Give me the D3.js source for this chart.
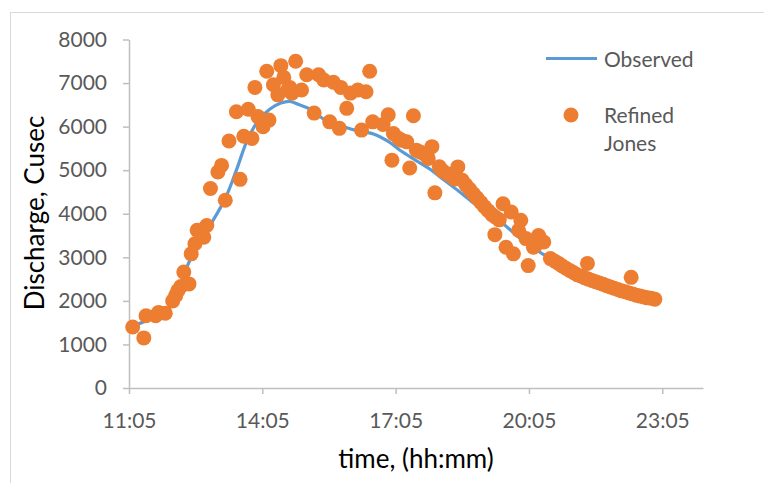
<!DOCTYPE html>
<html>
<head>
<meta charset="utf-8">
<script src="https://cdn.jsdelivr.net/npm/d3@7"></script>
<style>
  body { margin: 0; background: #fff; }
  text { font-family: Lato, "Open Sans", sans-serif; }
</style>
</head>
<body>
<svg id="chart" width="764" height="483"></svg>
<script>
// Observed hydrograph (smoothed line)
var obsTimes = ['11:05','11:30','11:55','12:10','12:25','12:40','12:55','13:15','13:30','13:45','14:00','14:15','14:30','14:42','14:55','15:10','15:30','15:50','16:10','16:35','16:55','17:10','17:30','17:50','18:10','18:30','18:50','19:10','19:30','19:50','20:10','20:25','20:45','21:10','21:40','22:10','22:40','22:55']
var obsValues = [1400,1550,1740,2150,2850,3350,3750,4350,5000,5700,6150,6400,6540,6580,6500,6400,6150,6030,5920,5830,5660,5470,5250,5040,4780,4520,4250,4010,3770,3480,3230,3060,2870,2660,2440,2240,2110,2040]

// Refined Jones points
var jonesTimes = ['11:10','11:25','11:28','11:41','11:45','11:54','12:04','12:08','12:11','12:15','12:19','12:26','12:29','12:34','12:37','12:46','12:50','12:55','13:05','13:10','13:15','13:20','13:30','13:35','13:40','13:46','13:51','13:55','13:59','14:06','14:11','14:14','14:20','14:26','14:30','14:34','14:39','14:42','14:45','14:50','14:58','15:05','15:15','15:21','15:28','15:36','15:41','15:49','15:51','15:59','16:04','16:14','16:19','16:25','16:30','16:34','16:48','16:55','17:00','17:02','17:09','17:13','17:20','17:24','17:29','17:33','17:38','17:43','17:49','17:54','17:58','18:04','18:08','18:15','18:20','18:25','18:29','18:35','18:40','18:45','18:50','18:55','19:00','19:05','19:10','19:15','19:19','19:20','19:25','19:30','19:34','19:41','19:44','19:51','19:54','20:01','20:04','20:11','20:14','20:18','20:25','20:34','20:40','20:45','20:50','20:55','21:00','21:05','21:10','21:15','21:20','21:24','21:25','21:30','21:35','21:40','21:45','21:50','21:55','22:00','22:05','22:10','22:15','22:20','22:23','22:25','22:30','22:35','22:40','22:45','22:50','22:55']
var jonesValues = [1400,1150,1660,1660,1735,1715,2000,2120,2235,2330,2660,2390,3080,3310,3620,3460,3730,4580,4960,5110,4310,5670,6340,4790,5780,6400,5730,6900,6230,6000,7270,6150,6960,6730,7400,7130,6840,6900,6770,7500,6840,7190,6310,7190,7070,6110,7020,5960,6900,6420,6770,6840,5920,6800,7270,6110,6050,6270,5230,5840,5730,5690,5650,5050,6250,5460,5420,5380,5270,5540,4480,5080,4990,4920,4860,4800,5076,4770,4660,4560,4460,4360,4260,4160,4070,3980,3520,3920,3860,4230,3230,4040,3080,3620,3850,3430,2810,3230,3270,3500,3350,2970,2910,2860,2800,2750,2700,2650,2600,2570,2530,2860,2500,2470,2440,2410,2380,2350,2320,2290,2260,2230,2210,2180,2540,2160,2130,2110,2090,2070,2060,2040]

var yTicks = [0,1000,2000,3000,4000,5000,6000,7000,8000]
var xTickLabels = ['11:05','14:05','17:05','20:05','23:05']

var parseTime = d3.timeParse('%H:%M')
var svg = d3.select('svg#chart')

// chart area border
svg.append('rect')
    .attr('x', 10.5).attr('y', 12.5)
    .attr('width', 800).attr('height', 500)
    .attr('fill', 'none').attr('stroke', '#d9d9d9')

var x = d3.scaleTime()
    .domain([parseTime('11:05'), d3.timeMinute.offset(parseTime('23:05'), 55)])
    .range([129, 703])
var y = d3.scaleLinear()
    .domain([0, 8000])
    .range([388, 39.5])

var axisColor = '#bfbfbf'
var labelColor = '#595959'

// y axis
svg.append('g')
    .attr('transform', 'translate(129,0)')
    .call(d3.axisLeft(y).tickValues(yTicks).tickFormat(d3.format('d')).tickSize(6).tickSizeOuter(0).tickPadding(16))
    .call(g => g.select('.domain').attr('stroke', axisColor).attr('stroke-width', 1.5))
    .call(g => g.selectAll('.tick line').attr('stroke', axisColor).attr('stroke-width', 1.5))
    .call(g => g.selectAll('.tick text').attr('fill', labelColor).style('font-size', '21px'))

// x axis
svg.append('g')
    .attr('transform', 'translate(0,388)')
    .call(d3.axisBottom(x).tickValues(xTickLabels.map(parseTime)).tickFormat(d3.timeFormat('%H:%M')).tickSize(6).tickSizeOuter(0))
    .call(g => g.select('.domain').attr('stroke', axisColor).attr('stroke-width', 1.5))
    .call(g => g.selectAll('.tick line').attr('stroke', axisColor).attr('stroke-width', 1.5))
    .call(g => g.selectAll('.tick text').attr('fill', labelColor).style('font-size', '21px')
        .attr('dy', null).attr('y', 40))

// observed line
var line = d3.line()
    .x((d, i) => x(parseTime(obsTimes[i])))
    .y(d => y(d))
    .curve(d3.curveCatmullRom)

svg.append('path')
    .datum(obsValues)
    .attr('fill', 'none')
    .attr('stroke', '#5b9bd5')
    .attr('stroke-width', 3.2)
    .attr('stroke-linejoin', 'round')
    .attr('stroke-linecap', 'round')
    .attr('d', line)

// refined jones dots
svg.append('g')
    .attr('fill', '#ed7d31')
  .selectAll('circle')
  .data(jonesValues)
  .enter()
  .append('circle')
    .attr('cx', (d, i) => x(parseTime(jonesTimes[i])))
    .attr('cy', d => y(d))
    .attr('r', 7.5)

// axis titles
svg.append('text')
    .attr('x', 416).attr('y', 468)
    .attr('text-anchor', 'middle')
    .style('font-size', '26px')
    .attr('fill', '#000')
    .text('time, (hh:mm)')

svg.append('text')
    .attr('transform', 'translate(44,213) rotate(-90)')
    .attr('text-anchor', 'middle')
    .style('font-size', '26px')
    .attr('fill', '#000')
    .text('Discharge, Cusec')

// legend
var legend = svg.append('g')
legend.append('line')
    .attr('x1', 546).attr('x2', 597)
    .attr('y1', 58.5).attr('y2', 58.5)
    .attr('stroke', '#5b9bd5').attr('stroke-width', 3.2)
legend.append('text')
    .attr('x', 604).attr('y', 67)
    .attr('fill', labelColor).style('font-size', '21px')
    .text('Observed')
legend.append('circle')
    .attr('cx', 571).attr('cy', 115).attr('r', 7.5)
    .attr('fill', '#ed7d31')
legend.append('text')
    .attr('x', 604).attr('y', 123)
    .attr('fill', labelColor).style('font-size', '21px')
    .text('Refined')
legend.append('text')
    .attr('x', 604).attr('y', 151)
    .attr('fill', labelColor).style('font-size', '21px')
    .text('Jones')
</script>
</body>
</html>
